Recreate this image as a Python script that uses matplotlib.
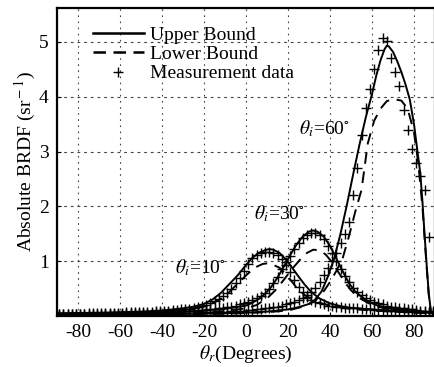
import numpy as np
import matplotlib
matplotlib.use("Agg")
import matplotlib.pyplot as plt

plt.rcParams['font.family'] = ['Liberation Serif', 'DejaVu Serif']
plt.rcParams['mathtext.fontset'] = 'stix'
plt.rcParams['axes.unicode_minus'] = False

# measurement angles (deg)
xm = np.arange(-89, 90, 2)

# theta_i = 10
meas10 = [0.04, 0.04, 0.04, 0.04, 0.045, 0.045, 0.045, 0.05, 0.05, 0.05,
          0.05, 0.055, 0.055, 0.06, 0.06, 0.06, 0.065, 0.065, 0.07, 0.07,
          0.075, 0.08, 0.08, 0.085, 0.09, 0.095, 0.10, 0.105, 0.11, 0.12,
          0.125, 0.135, 0.145, 0.16, 0.18, 0.20, 0.23, 0.27, 0.31, 0.36,
          0.42, 0.50, 0.60, 0.70, 0.82, 0.95, 1.05, 1.12, 1.15, 1.16,
          1.16, 1.15, 1.12, 1.04, 0.93, 0.80, 0.66, 0.53, 0.43, 0.35,
          0.30, 0.26, 0.23, 0.21, 0.19, 0.18, 0.17, 0.16, 0.155, 0.15,
          0.145, 0.14, 0.13, 0.125, 0.12, 0.115, 0.11, 0.105, 0.10, 0.10,
          0.095, 0.09, 0.09, 0.085, 0.08, 0.08, 0.075, 0.07, 0.07, 0.06]
up10_x = [-90, -80, -70, -60, -50, -40, -35, -30, -25, -20, -16, -12, -8, -4, 0, 3, 6, 9, 11, 13,
          16, 19, 22, 25, 28, 31, 35, 40, 45, 50, 60, 70, 80, 90]
up10_y = [0.05, 0.055, 0.06, 0.07, 0.08, 0.10, 0.12, 0.14, 0.17, 0.22, 0.30, 0.42, 0.58, 0.74, 0.93, 1.06, 1.15, 1.20, 1.22, 1.21,
          1.15, 1.03, 0.88, 0.72, 0.57, 0.44, 0.32, 0.23, 0.18, 0.15, 0.12, 0.10, 0.08, 0.07]
lo10_x = [-90, -80, -70, -60, -50, -40, -30, -20, -15, -10, -5, 0, 4, 8, 10, 12, 16, 20, 24, 28,
          32, 36, 40, 50, 60, 70, 80, 90]
lo10_y = [0.03, 0.035, 0.04, 0.05, 0.06, 0.07, 0.10, 0.17, 0.25, 0.36, 0.55, 0.74, 0.88, 0.95, 0.96, 0.95, 0.88, 0.72, 0.52, 0.38,
          0.29, 0.23, 0.19, 0.13, 0.10, 0.08, 0.06, 0.05]

# theta_i = 30
meas30 = [0.03, 0.03, 0.03, 0.03, 0.03, 0.035, 0.035, 0.035, 0.035, 0.04,
          0.04, 0.04, 0.04, 0.045, 0.045, 0.045, 0.05, 0.05, 0.05, 0.055,
          0.055, 0.06, 0.06, 0.065, 0.065, 0.07, 0.07, 0.075, 0.08, 0.08,
          0.085, 0.09, 0.095, 0.10, 0.105, 0.11, 0.12, 0.13, 0.14, 0.15,
          0.16, 0.17, 0.19, 0.21, 0.23, 0.26, 0.29, 0.32, 0.36, 0.42,
          0.50, 0.60, 0.72, 0.85, 0.98, 1.10, 1.22, 1.33, 1.42, 1.48,
          1.51, 1.52, 1.48, 1.40, 1.28, 1.15, 1.00, 0.86, 0.73, 0.62,
          0.52, 0.44, 0.38, 0.33, 0.29, 0.26, 0.23, 0.21, 0.19, 0.17,
          0.16, 0.15, 0.14, 0.13, 0.12, 0.11, 0.10, 0.09, 0.08, 0.06]
up30_x = [-90, -80, -70, -60, -50, -40, -30, -20, -10, -5, 0, 3, 6, 9, 12, 15, 18, 21, 24, 27,
          30, 32, 34, 37, 40, 43, 46, 49, 52, 55, 58, 62, 66, 70, 75, 80, 85, 90]
up30_y = [0.04, 0.045, 0.05, 0.055, 0.06, 0.07, 0.08, 0.10, 0.13, 0.16, 0.19, 0.24, 0.31, 0.40, 0.53, 0.70, 0.90, 1.11, 1.30, 1.45,
          1.54, 1.56, 1.54, 1.45, 1.28, 1.05, 0.82, 0.60, 0.45, 0.35, 0.27, 0.20, 0.16, 0.13, 0.11, 0.09, 0.08, 0.07]
lo30_x = [-90, -80, -70, -60, -50, -40, -30, -20, -10, 0, 5, 10, 14, 18, 22, 26, 29, 32, 35, 38,
          41, 44, 47, 50, 54, 58, 62, 66, 70, 75, 80, 85, 90]
lo30_y = [0.02, 0.025, 0.03, 0.035, 0.04, 0.045, 0.055, 0.07, 0.09, 0.14, 0.20, 0.32, 0.47, 0.66, 0.86, 1.04, 1.15, 1.21, 1.20, 1.12,
          0.98, 0.80, 0.62, 0.47, 0.33, 0.24, 0.18, 0.14, 0.11, 0.09, 0.07, 0.06, 0.05]

# theta_i = 60
meas60 = [0.02, 0.02, 0.02, 0.02, 0.02, 0.02, 0.025, 0.025, 0.025, 0.025,
          0.025, 0.03, 0.03, 0.03, 0.03, 0.03, 0.03, 0.035, 0.035, 0.035,
          0.035, 0.04, 0.04, 0.04, 0.04, 0.045, 0.045, 0.045, 0.05, 0.05,
          0.05, 0.055, 0.055, 0.06, 0.06, 0.065, 0.065, 0.07, 0.07, 0.075,
          0.08, 0.085, 0.09, 0.095, 0.10, 0.105, 0.11, 0.12, 0.13, 0.14,
          0.15, 0.16, 0.17, 0.19, 0.21, 0.23, 0.26, 0.29, 0.33, 0.38,
          0.44, 0.52, 0.62, 0.74, 0.87, 1.00, 1.15, 1.33, 1.50, 1.72,
          2.20, 2.70, 3.30, 3.80, 4.15, 4.50, 4.85, 5.08, 5.02, 4.70,
          4.45, 4.20, 3.75, 3.40, 3.05, 2.80, 2.55, 2.30, 1.44, 0.10]
up60_x = [-90, -70, -50, -30, -10, 0, 10, 20, 25, 30, 33, 36, 39, 42, 45, 48, 51, 54, 57, 60,
          62, 64, 66, 67, 68, 70, 72, 74, 76, 78, 80, 82, 83, 84, 85, 86, 87, 88, 89, 90]
up60_y = [0.02, 0.025, 0.03, 0.04, 0.05, 0.06, 0.08, 0.12, 0.16, 0.22, 0.30, 0.45, 0.72, 1.05, 1.50, 2.02, 2.58, 3.12, 3.62, 4.05,
          4.38, 4.66, 4.87, 4.93, 4.92, 4.82, 4.65, 4.45, 4.22, 3.95, 3.50, 2.90, 2.60, 2.10, 1.50, 0.95, 0.42, 0.10, 0.03, 0.02]
lo60_x = [-90, -50, -10, 10, 20, 28, 33, 37, 40, 43, 46, 49, 52, 55, 58, 61, 64, 67, 70, 74,
          77, 80, 82, 84, 86, 87, 88, 90]
lo60_y = [0.02, 0.025, 0.04, 0.07, 0.10, 0.18, 0.28, 0.45, 0.62, 0.82, 1.05, 1.45, 1.90, 2.30, 3.15, 3.56, 3.78, 3.92, 3.96, 3.93,
          3.78, 3.35, 2.80, 2.00, 0.90, 0.40, 0.08, 0.02]

labels = [r'$\theta_i$=10$^{\circ}$', r'$\theta_i$=30$^{\circ}$', r'$\theta_i$=60$^{\circ}$']
label_pos = [(-34, 0.89), (3.8, 1.87), (25.2, 3.42)]

fig = plt.figure(figsize=(4.34, 3.67), dpi=100)
ax = fig.add_axes([57 / 434, 51 / 367, 378 / 434, 308 / 367])

lw = 1.4
for ux, uy, lx, ly, m in [(up10_x, up10_y, lo10_x, lo10_y, meas10),
                          (up30_x, up30_y, lo30_x, lo30_y, meas30),
                          (up60_x, up60_y, lo60_x, lo60_y, meas60)]:
    ax.plot(lx, ly, color='black', lw=lw, dashes=[6, 4])
    ax.plot(xm, m, ls='none', marker='+', ms=7, mew=1.0, color='black')
    ax.plot(ux, uy, color='black', lw=lw)

for t, (x, y) in zip(labels, label_pos):
    ax.text(x, y, t, fontsize=14, ha='left', va='center')

# legend proxies
h1, = ax.plot([], [], color='black', lw=1.8, label='Upper Bound')
h2, = ax.plot([], [], color='black', lw=1.8, dashes=[5, 3], label='Lower Bound')
h3, = ax.plot([], [], ls='none', marker='+', ms=7, mew=1.0, color='black', label='Measurement data')
ax.legend(handles=[h1, h2, h3], loc='upper left', bbox_to_anchor=(36 / 378, 0.94),
          frameon=False, fontsize=14, borderpad=0, borderaxespad=0,
          handlelength=2.6, handletextpad=0.35, labelspacing=0.08)

ax.set_xlim(-90, 90)
ax.set_ylim(0, 5.62)
ax.set_xticks(range(-80, 81, 20))
ax.set_yticks([1, 2, 3, 4, 5])
ax.xaxis.grid(True, color='#444444', lw=0.8, linestyle=(0, (1.5, 4)))
ax.yaxis.grid(True, color='#444444', lw=0.8, linestyle=(0, (2.5, 3.5)))
ax.tick_params(direction='in', length=3, labelsize=14, pad=6)
for s in ['left', 'bottom', 'top', 'right']:
    ax.spines[s].set_linewidth(1.6)

ax.set_xlabel(r'$\theta_r$(Degrees)', fontsize=14, labelpad=2)
ax.set_ylabel(r'Absolute BRDF (sr$^{\rm -1}$)', fontsize=14)
ax.yaxis.set_label_coords(-0.05, 0.5)

fig.savefig('out.png', dpi=100)
